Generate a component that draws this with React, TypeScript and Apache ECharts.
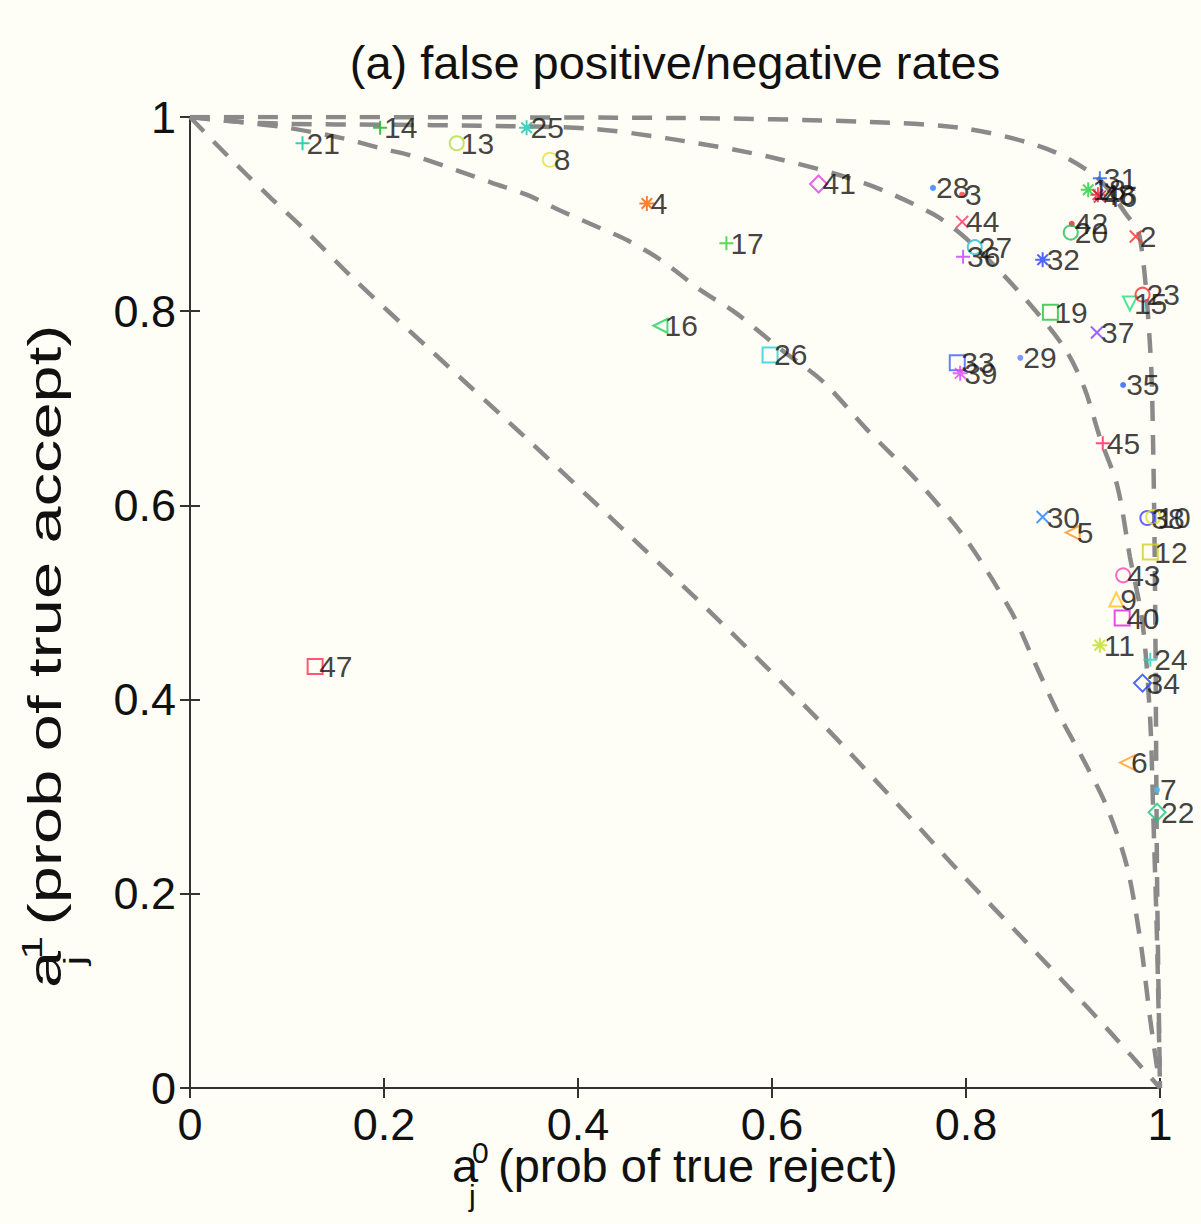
import React, { useEffect, useRef } from "react";
import * as echarts from "echarts";

// ---------- data ----------
const workerIds = [21, 14, 13, 25, 8, 4, 41, 28, 3, 44, 27, 36, 32, 31, 18, 48, 46, 42, 20, 2, 19, 15, 23, 37, 33, 39, 29, 35, 45, 30, 5, 38, 10, 12, 43, 9, 40, 11, 24, 34, 6, 7, 22, 47, 26, 16, 17];
const probTrueReject = [0.116, 0.196, 0.275, 0.347, 0.371, 0.471, 0.648, 0.766, 0.796, 0.796, 0.809, 0.797, 0.879, 0.938, 0.926, 0.936, 0.938, 0.909, 0.908, 0.975, 0.887, 0.969, 0.982, 0.935, 0.791, 0.794, 0.856, 0.962, 0.941, 0.879, 0.91, 0.987, 0.993, 0.99, 0.962, 0.955, 0.961, 0.938, 0.99, 0.982, 0.966, 0.997, 0.997, 0.129, 0.598, 0.485, 0.553];
const probTrueAccept = [0.973, 0.989, 0.973, 0.989, 0.956, 0.911, 0.931, 0.927, 0.92, 0.892, 0.866, 0.856, 0.853, 0.937, 0.925, 0.92, 0.918, 0.89, 0.881, 0.877, 0.799, 0.808, 0.817, 0.778, 0.747, 0.736, 0.752, 0.724, 0.664, 0.588, 0.572, 0.587, 0.588, 0.552, 0.528, 0.503, 0.484, 0.456, 0.441, 0.417, 0.335, 0.307, 0.284, 0.434, 0.755, 0.785, 0.87];

// dashed reference curves
const curve1X = [0, 0.024, 0.059, 0.086, 0.116, 0.168, 0.25, 0.35, 0.45, 0.55, 0.65, 0.75, 0.79, 0.85, 0.9, 0.95, 1];
const curve1Y = [1, 0.975, 0.94, 0.914, 0.886, 0.834, 0.758, 0.666, 0.572, 0.477, 0.377, 0.27, 0.226, 0.163, 0.11, 0.056, 0];
const curve2X = [0, 0.05, 0.1, 0.158, 0.196, 0.237, 0.275, 0.312, 0.347, 0.381, 0.415, 0.451, 0.485, 0.526, 0.563, 0.61, 0.652, 0.698, 0.75, 0.8, 0.847, 0.87, 0.893, 0.92, 0.945, 0.966, 0.98, 0.99, 1];
const curve2Y = [1, 0.995, 0.989, 0.978, 0.968, 0.958, 0.945, 0.932, 0.92, 0.904, 0.889, 0.873, 0.853, 0.822, 0.798, 0.76, 0.728, 0.678, 0.625, 0.565, 0.49, 0.44, 0.39, 0.34, 0.29, 0.228, 0.15, 0.07, 0];
const curve3X = [0, 0.05, 0.1, 0.2, 0.3, 0.412, 0.492, 0.597, 0.695, 0.766, 0.8, 0.851, 0.901, 0.922, 0.938, 0.956, 0.969, 0.982, 0.99, 0.993, 0.997, 1];
const curve3Y = [1, 0.995, 0.993, 0.992, 0.991, 0.988, 0.978, 0.959, 0.932, 0.9, 0.875, 0.824, 0.763, 0.721, 0.67, 0.62, 0.547, 0.479, 0.377, 0.283, 0.15, 0];
const curve4X = [0, 0.5, 0.7, 0.8, 0.884, 0.936, 0.965, 0.979, 0.99, 0.993, 0.995, 0.997, 1];
const curve4Y = [1, 0.999, 0.995, 0.988, 0.967, 0.937, 0.9, 0.877, 0.76, 0.657, 0.5, 0.214, 0];

const tickLabels = ["0", "0.2", "0.4", "0.6", "0.8", "1"];

// ---------- marker styles ----------
const SYMBOLS: Record<string, { symbol: string; size: number; hollow: boolean }> = {
  plus: { symbol: "path://M5,0L5,10M0,5L10,5", size: 14, hollow: true },
  cross: { symbol: "path://M0,0L10,10M10,0L0,10", size: 12, hollow: true },
  star: { symbol: "path://M5,0L5,10M0,5L10,5M1.5,1.5L8.5,8.5M8.5,1.5L1.5,8.5", size: 15, hollow: true },
  circle: { symbol: "circle", size: 14, hollow: true },
  square: { symbol: "rect", size: 15, hollow: true },
  diamond: { symbol: "diamond", size: 17, hollow: true },
  dot: { symbol: "circle", size: 6, hollow: false },
  tri: { symbol: "triangle", size: 14, hollow: true },
  triDown: { symbol: "path://M0,0L10,0L5,9Z", size: 14, hollow: true },
  triLeft: { symbol: "path://M0,5L9,0L9,10Z", size: 14, hollow: true },
};

const markerStyle: Record<number, [string, string]> = {
  21: ["plus", "#00c0a0"], 14: ["plus", "#10b020"], 13: ["circle", "#b0e040"], 25: ["star", "#20c0b0"],
  8: ["circle", "#e8e040"], 4: ["star", "#ff6000"], 41: ["diamond", "#e040e0"], 28: ["dot", "#2080ff"],
  3: ["dot", "#ff4040"], 44: ["cross", "#ff3060"], 27: ["circle", "#20c0d0"], 36: ["plus", "#c040ff"],
  32: ["star", "#2040ff"], 31: ["plus", "#2060ff"], 18: ["star", "#20d040"], 48: ["star", "#ff2040"],
  46: ["cross", "#c02040"], 42: ["dot", "#e02020"], 20: ["circle", "#20c060"], 2: ["cross", "#ff3030"],
  19: ["square", "#20c040"], 15: ["triDown", "#20e080"], 23: ["circle", "#ff3030"], 37: ["cross", "#8040ff"],
  33: ["square", "#4060ff"], 39: ["star", "#e040ff"], 29: ["dot", "#6080ff"], 35: ["dot", "#2060ff"],
  45: ["plus", "#ff2060"], 30: ["cross", "#2080ff"], 5: ["triLeft", "#ff9020"], 38: ["circle", "#4040ff"],
  10: ["circle", "#e0e020"], 12: ["square", "#d0d020"], 43: ["circle", "#ff40b0"], 9: ["tri", "#ffc020"],
  40: ["square", "#e020e0"], 11: ["star", "#c0e020"], 24: ["plus", "#20d0c0"], 34: ["diamond", "#2040ff"],
  6: ["triLeft", "#ffa020"], 7: ["dot", "#40c0ff"], 22: ["diamond", "#20c080"], 47: ["square", "#ff3050"],
  26: ["square", "#20d0e0"], 16: ["triLeft", "#20d060"], 17: ["plus", "#30d030"],
};

const FONT = "Liberation Sans";
const AXIS_COLOR = "#333";

function curveSeries(xs: number[], ys: number[]) {
  return {
    type: "line",
    data: xs.map((x, i) => [x, ys[i]]),
    showSymbol: false,
    symbol: "none",
    smooth: 0.3,
    silent: true,
    z: 1,
    lineStyle: { color: "#8a8a8a", width: 4.5, type: [20, 14] },
  };
}

export default function App() {
  const ref = useRef<HTMLDivElement>(null);
  useEffect(() => {
    document.body.style.margin = "0";
    const chart = echarts.init(ref.current!, undefined, { renderer: "svg" });

    const points = workerIds.map((id, i) => {
      const [kind, color] = markerStyle[id];
      const s = SYMBOLS[kind];
      return {
        value: [probTrueReject[i], probTrueAccept[i]],
        symbol: s.symbol,
        symbolSize: s.size,
        itemStyle: s.hollow
          ? { color: "transparent", borderColor: color, borderWidth: 2 }
          : { color: color, borderWidth: 0 },
        label: {
          show: true,
          formatter: String(id),
          position: "right",
          distance: 3 - s.size / 2,
          color: "#111",
          fontSize: 30,
          fontFamily: FONT,
        },
      };
    });

    const axisCommon = {
      type: "value",
      min: 0,
      max: 1,
      interval: 0.2,
      axisLine: { show: true, lineStyle: { color: AXIS_COLOR, width: 2 } },
      axisTick: { show: true, inside: true, length: 10, lineStyle: { color: AXIS_COLOR, width: 2 } },
      splitLine: { show: false },
    };
    const tickFmt = (v: number) => tickLabels[Math.round(v * 5)] ?? String(v);

    const subFont = 30;
    const mainFont = 47;

    chart.setOption({
      animation: false,
      backgroundColor: "#fffef6",
      grid: { left: 190, right: 41, top: 117, bottom: 136, containLabel: false },
      xAxis: [
        {
          ...axisCommon,
          position: "bottom",
          axisLabel: { formatter: tickFmt, fontSize: 45, color: "#111", fontFamily: FONT, margin: 14 },
        },
        { ...axisCommon, position: "top", axisLabel: { show: false } },
      ],
      yAxis: [
        {
          ...axisCommon,
          position: "left",
          axisLabel: { formatter: tickFmt, fontSize: 45, color: "#111", fontFamily: FONT, margin: 14 },
        },
        { ...axisCommon, position: "right", axisLabel: { show: false } },
      ],
      series: [
        curveSeries(curve1X, curve1Y),
        curveSeries(curve2X, curve2Y),
        curveSeries(curve3X, curve3Y),
        curveSeries(curve4X, curve4Y),
        {
          type: "scatter",
          data: points,
          silent: true,
          z: 3,
        },
      ],
      graphic: [
        {
          type: "text",
          x: 675,
          y: 62,
          style: {
            text: "(a) false positive/negative rates",
            fontSize: mainFont,
            fontFamily: FONT,
            fill: "#111",
            textAlign: "center",
            textVerticalAlign: "middle",
          },
        },
        {
          type: "group",
          x: 452,
          y: 1165,
          children: [
            { type: "text", x: 0, y: 0, style: { text: "a", fontSize: mainFont, fontFamily: FONT, fill: "#111", textVerticalAlign: "middle" } },
            { type: "text", x: 20, y: -13, style: { text: "0", fontSize: subFont, fontFamily: FONT, fill: "#111", textVerticalAlign: "middle" } },
            { type: "text", x: 17, y: 30, style: { text: "j", fontSize: subFont, fontFamily: FONT, fill: "#111", textVerticalAlign: "middle" } },
            { type: "text", x: 46, y: 0, style: { text: "(prob of true reject)", fontSize: mainFont, fontFamily: FONT, fill: "#111", textVerticalAlign: "middle" } },
          ],
        },
        {
          type: "group",
          x: 45,
          y: 988,
          rotation: Math.PI / 2,
          scaleX: 1.42,
          children: [
            { type: "text", x: 0, y: 0, style: { text: "a", fontSize: mainFont, fontFamily: FONT, fill: "#111", textVerticalAlign: "middle" } },
            { type: "text", x: 20, y: -13, style: { text: "1", fontSize: subFont, fontFamily: FONT, fill: "#111", textVerticalAlign: "middle" } },
            { type: "text", x: 16, y: 30, style: { text: "j", fontSize: subFont, fontFamily: FONT, fill: "#111", textVerticalAlign: "middle" } },
            { type: "text", x: 44, y: 0, style: { text: "(prob of true accept)", fontSize: mainFont, fontFamily: FONT, fill: "#111", textVerticalAlign: "middle" } },
          ],
        },
      ],
    });
    return () => chart.dispose();
  }, []);
  return <div ref={ref} style={{ width: 1201, height: 1224 }} />;
}
